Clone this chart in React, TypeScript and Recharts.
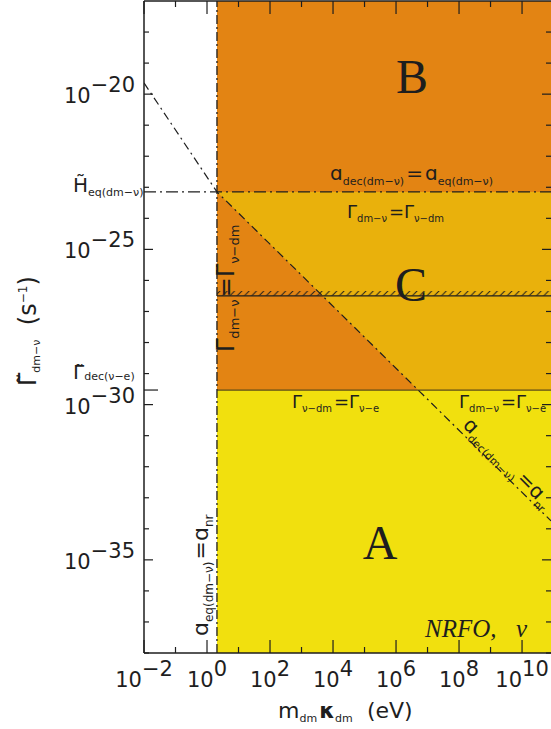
import React from "react";
import { ComposedChart, Area, Line, XAxis, YAxis } from "recharts";

// axis ranges (eV, s^-1)
const X_MIN = 1e-2;
const X_MAX = 8.3e10;
const Y_MIN = 1e-38;
const Y_MAX = 1e-17;

// region boundaries
const aNrMass = 2.07; // a_eq(dm-nu) = a_nr
const crossMass = 5.0e6; // a_dec(dm-nu) = a_nr meets Gamma_dec(nu-e)
const hEq = 7.1e-24; // H_eq(dm-nu)
const gammaDec = 2.95e-30; // Gamma_dec(nu-e)
const gammaEqual = 3.2e-27; // Gamma_dm-nu = Gamma_nu-dm (hatched)
const gammaHatchTop = 4.6e-27;

// a_dec(dm-nu) = a_nr line
const decNrMass = [1e-2, 2.07, 8.3e10];
const decNrGamma = [2.3e-20, 7.1e-24, 1.8e-34];

// tick exponents
const xExponents = [-2, -1, 0, 1, 2, 3, 4, 5, 6, 7, 8, 9, 10];
const yExponents = [-38, -37, -36, -35, -34, -33, -32, -31, -30, -29, -28, -27, -26, -25, -24, -23, -22, -21, -20, -19, -18];
const yLabelled = [-35, -30, -25, -20];

const ORANGE = "#E38413";
const GOLD = "#E9B10C";
const YELLOW = "#F1E00E";
const INK = "#1e1e1e";
const SANS = "'DejaVu Sans', sans-serif";
const SERIF = "'Liberation Serif', 'DejaVu Serif', serif";

const seg = (x1: number, y1: number, x2: number, y2: number) => [
  { x: x1, y: y1 },
  { x: x2, y: y2 },
];

const regionB = seg(aNrMass, Y_MAX, X_MAX, Y_MAX);
const regionC = seg(aNrMass, hEq, X_MAX, hEq);
const regionTri = seg(aNrMass, hEq, crossMass, gammaDec);
const regionA = seg(aNrMass, gammaDec, X_MAX, gammaDec);
const hatchBand = seg(aNrMass, gammaHatchTop, X_MAX, gammaHatchTop);

const hEqLine = seg(X_MIN, hEq, X_MAX, hEq);
const nrLine = seg(aNrMass, Y_MIN, aNrMass, Y_MAX);
const decLine = seg(aNrMass, gammaDec, X_MAX, gammaDec);
const equalLine = seg(aNrMass, gammaEqual, X_MAX, gammaEqual);
const decNrLine = decNrMass.map((m, i) => ({ x: m, y: decNrGamma[i] }));

const xTicks = xExponents.map((e) => 10 ** e);
const yTicks = [...yExponents.map((e) => 10 ** e), hEq, gammaDec].sort((a, b) => a - b);

const expOf = (v: number) => Math.round(Math.log10(v));
const isDecade = (v: number) => Math.abs(Math.log10(v) - expOf(v)) < 1e-6;
const fmtExp = (e: number) => (e < 0 ? `\u2212${-e}` : `${e}`);

function Pow({ x, y, e, anchor }: { x: number; y: number; e: number; anchor: "middle" | "end" }) {
  return (
    <text x={x} y={y} textAnchor={anchor} fontFamily={SANS} fontSize={21} fill={INK}>
      <tspan>10</tspan>
      <tspan dy={-11}>{fmtExp(e)}</tspan>
    </text>
  );
}

function BottomTick(props: any) {
  const { x, y, payload } = props;
  const e = expOf(payload.value);
  const major = e % 2 === 0;
  return (
    <g>
      <line x1={x} x2={x} y1={y} y2={y - (major ? 13 : 6)} stroke={INK} strokeWidth={1.2} />
      {major && <Pow x={x} y={y + 34} e={e} anchor="middle" />}
    </g>
  );
}

function TopTick(props: any) {
  const { x, y, payload } = props;
  const major = expOf(payload.value) % 2 === 0;
  return <line x1={x} x2={x} y1={y} y2={y + (major ? 13 : 6)} stroke={INK} strokeWidth={1.2} />;
}

function LeftTick(props: any) {
  const { x, y, payload } = props;
  const v = payload.value;
  if (v === hEq) {
    return (
      <text x={x - 71} y={y} fontFamily={SANS} fontSize={20} fill={INK}>
        {"H\u0303"}
        <tspan dy={4} fontSize={11}>eq(dm{"\u2212"}ν)</tspan>
      </text>
    );
  }
  if (v === gammaDec) {
    return (
      <g>
        <line x1={x} x2={x + 14} y1={y} y2={y} stroke={INK} strokeWidth={1.2} />
        <text x={x - 71} y={y - 11} fontFamily={SANS} fontSize={20} fill={INK}>
          {"Γ\u0303"}
          <tspan dy={1} fontSize={11}>dec(ν{"\u2212"}e)</tspan>
        </text>
      </g>
    );
  }
  if (!isDecade(v)) return <g />;
  const e = expOf(v);
  const major = yLabelled.includes(e);
  return (
    <g>
      <line x1={x} x2={x + (major ? 9 : 5)} y1={y} y2={y} stroke={INK} strokeWidth={1.2} />
      {major && <Pow x={x - 9} y={y + 9} e={e} anchor="end" />}
    </g>
  );
}

function RightTick(props: any) {
  const { x, y, payload } = props;
  const major = yLabelled.includes(expOf(payload.value));
  return <line x1={x} x2={x - (major ? 9 : 5)} y1={y} y2={y} stroke={INK} strokeWidth={1.2} />;
}

const sub = (s: string, size = 11, d = 5) => [
  <tspan key="a" dy={d} fontSize={size}>{s}</tspan>,
  <tspan key="b" dy={-d}>{"\u200a"}</tspan>,
];

export default function App() {
  return (
    <div style={{ position: "relative", width: 552, height: 729 }}>
      <style>{`html,body{margin:0;overflow:hidden;}`}</style>
      <svg width={0} height={0} style={{ position: "absolute" }}>
        <defs>
          <pattern id="hatch" patternUnits="userSpaceOnUse" width={7.3} height={7.3}>
            <path d="M0,7.3 L7.3,0 M-1,1 L1,-1 M6.3,8.3 L8.3,6.3" stroke={INK} strokeWidth={1} />
          </pattern>
        </defs>
      </svg>
      <ComposedChart width={552} height={729} margin={{ top: 0, right: 0, bottom: 75, left: 143 }}>
        <XAxis
          xAxisId={0}
          dataKey="x"
          type="number"
          scale="log"
          domain={[X_MIN, X_MAX]}
          allowDataOverflow
          ticks={xTicks}
          interval={0}
          height={1}
          tickSize={0}
          tickMargin={0}
          tick={<BottomTick />}
          stroke={INK}
          strokeWidth={1.5}
        />
        <XAxis
          xAxisId="top"
          orientation="top"
          dataKey="x"
          type="number"
          scale="log"
          domain={[X_MIN, X_MAX]}
          allowDataOverflow
          ticks={xTicks}
          interval={0}
          height={1}
          tickSize={0}
          tickMargin={0}
          tick={<TopTick />}
          stroke={INK}
          strokeWidth={1.5}
        />
        <YAxis
          yAxisId={0}
          dataKey="y"
          type="number"
          scale="log"
          domain={[Y_MIN, Y_MAX]}
          allowDataOverflow
          ticks={yTicks}
          interval={0}
          width={1}
          tickSize={0}
          tickMargin={0}
          tick={<LeftTick />}
          stroke={INK}
          strokeWidth={1.5}
        />
        <YAxis
          yAxisId="right"
          orientation="right"
          dataKey="y"
          type="number"
          scale="log"
          domain={[Y_MIN, Y_MAX]}
          allowDataOverflow
          ticks={yExponents.map((e) => 10 ** e)}
          interval={0}
          width={1}
          tickSize={0}
          tickMargin={0}
          tick={<RightTick />}
          axisLine={false}
        />

        <Area data={regionB} dataKey="y" type="linear" baseValue={hEq} fill={ORANGE} fillOpacity={1} stroke="none" isAnimationActive={false} />
        <Area data={regionC} dataKey="y" type="linear" baseValue={gammaDec} fill={GOLD} fillOpacity={1} stroke="none" isAnimationActive={false} />
        <Area data={regionTri} dataKey="y" type="linear" baseValue={gammaDec} fill={ORANGE} fillOpacity={1} stroke="none" isAnimationActive={false} />
        <Area data={regionA} dataKey="y" type="linear" baseValue={Y_MIN} fill={YELLOW} fillOpacity={1} stroke="none" isAnimationActive={false} />
        <Area data={hatchBand} dataKey="y" type="linear" baseValue={gammaEqual} fill="url(#hatch)" fillOpacity={1} stroke="none" isAnimationActive={false} />

        <Line data={decLine} dataKey="y" type="linear" stroke="#5c4d18" strokeWidth={1.3} dot={false} isAnimationActive={false} />
        <Line data={equalLine} dataKey="y" type="linear" stroke={INK} strokeWidth={1.2} dot={false} isAnimationActive={false} />
        <Line data={hEqLine} dataKey="y" type="linear" stroke={INK} strokeWidth={1.2} strokeDasharray="12 4 2 4" dot={false} isAnimationActive={false} />
        <Line data={nrLine} dataKey="y" type="linear" stroke={INK} strokeWidth={1.3} strokeDasharray="9 3 2 3" dot={false} isAnimationActive={false} />
        <Line data={decNrLine} dataKey="y" type="linear" stroke={INK} strokeWidth={1.2} strokeDasharray="8 4 2 4" dot={false} isAnimationActive={false} />
      </ComposedChart>

      <svg width={551} height={729} style={{ position: "absolute", left: 0, top: 0, pointerEvents: "none" }}>
        <g fill={INK} fontFamily={SANS}>
          {/* region letters */}
          <text x={412} y={93} textAnchor="middle" fontFamily={SERIF} fontSize={48}>B</text>
          <text x={411} y={301} textAnchor="middle" fontFamily={SERIF} fontSize={48}>C</text>
          <text x={380} y={559} textAnchor="middle" fontFamily={SERIF} fontSize={48}>A</text>

          <text x={330} y={180} fontSize={20}>
            ɑ{sub("dec(dm\u2212ν)")}={"\u200a"}ɑ{sub("eq(dm\u2212ν)")}
          </text>
          <text x={347} y={218} fontSize={18}>
            Γ{sub("dm\u2212ν", 10, 4)}=Γ{sub("ν\u2212dm", 10, 4)}
          </text>
          <text x={292} y={408} fontSize={18}>
            Γ{sub("ν\u2212dm", 10, 4)}=Γ{sub("ν\u2212e", 10, 4)}
          </text>
          <text x={459} y={408} fontSize={18}>
            Γ{sub("dm\u2212ν", 10, 4)}=Γ{sub("ν\u2212e", 10, 4)}
          </text>

          <text x={234} y={352} fontSize={24} transform="rotate(-90 234 352)">
            Γ{sub("dm\u2212ν", 13, 5)}=Γ{sub("ν\u2212dm", 13, 5)}
          </text>
          <text x={208} y={636} fontSize={22} transform="rotate(-90 208 636)">
            ɑ{sub("eq(dm\u2212ν)", 12, 5)}=ɑ{sub("nr", 12, 5)}
          </text>
          <text x={462} y={426} fontSize={20} transform="rotate(45 462 426)">
            ɑ{sub("dec(dm\u2212ν)", 11, 6)}=ɑ{sub("nr", 11, 6)}
          </text>

          <text x={425} y={637} fontFamily={SERIF} fontStyle="italic" fontSize={25}>NRFO,</text>
          <text x={516} y={637} fontFamily={SERIF} fontStyle="italic" fontSize={25}>ν</text>

          {/* axis titles */}
          <text x={278} y={718} fontSize={22}>
            m{sub("dm", 11, 4)}
            <tspan fontWeight="bold">κ</tspan>
            {sub("dm", 11, 4)}
            <tspan dx={12}>(eV)</tspan>
          </text>
          <text x={36} y={386} fontSize={24} transform="rotate(-90 36 386)">
            {"Γ\u0303"}
            {sub("dm\u2212ν", 11, 4)}
            <tspan dx={12}>(s</tspan>
            <tspan dy={-9} fontSize={12}>{"\u2212"}1</tspan>
            <tspan dy={9}>)</tspan>
          </text>
        </g>
      </svg>
    </div>
  );
}
